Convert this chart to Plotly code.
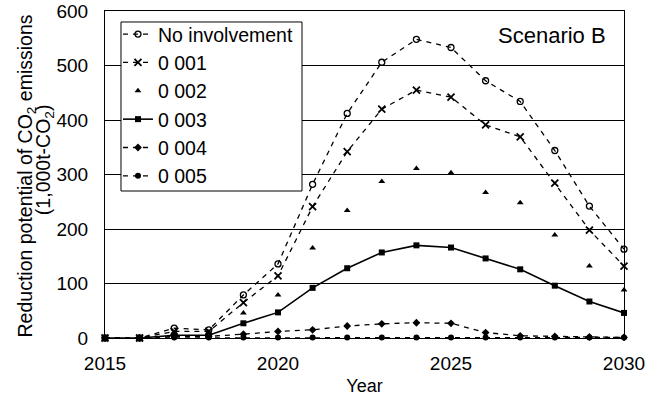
import plotly.graph_objects as go

years = list(range(2015, 2031))
no_involvement = [0, 0, 18, 15, 79, 136, 282, 412, 506, 548, 533, 472, 434, 344, 242, 163]
v0001 = [0, 0, 12, 12, 65, 114, 241, 342, 420, 455, 442, 391, 369, 284, 198, 132]
v0002 = [0, 0, 10, 10, 46, 79, 165, 234, 287, 311, 303, 267, 248, 189, 132, 88]
v0003 = [0, 0, 5, 5, 27, 47, 92, 128, 157, 170, 166, 146, 126, 96, 67, 46]
v0004 = [0, 0, 3, 3, 7, 12, 15, 22, 26, 28, 27, 10, 4, 3, 2, 1]
v0005 = [0, 0, 1, 1, 1, 1, 1, 1, 1, 1, 1, 1, 1, 1, 1, 1]

names = ["No involvement", "0 001", "0 002", "0 003", "0 004", "0 005"]
y_ticks = [0, 100, 200, 300, 400, 500, 600]
x_ticks = [2015, 2020, 2025, 2030]
y_title_1 = "Reduction potential of CO<sub>2</sub> emissions"
y_title_2 = "(1,000t-CO<sub>2</sub>)"

FONT = "Liberation Sans, Arial, sans-serif"
DASH = "5px,5px"

fig = go.Figure()
fig.add_trace(go.Scatter(x=years, y=no_involvement, name=names[0], mode="lines+markers",
                         line=dict(color="black", width=1.3, dash=DASH),
                         marker=dict(symbol="circle-open", size=6, color="black", line=dict(width=1.3)),
                         cliponaxis=False))
fig.add_trace(go.Scatter(x=years, y=v0001, name=names[1], mode="lines+markers",
                         line=dict(color="black", width=1.3, dash=DASH),
                         marker=dict(symbol="x-thin-open", size=7, color="black", line=dict(width=1.8)),
                         cliponaxis=False))
fig.add_trace(go.Scatter(x=years, y=v0002, name=names[2], mode="markers",
                         marker=dict(symbol="triangle-up", size=6, color="black"),
                         cliponaxis=False))
fig.add_trace(go.Scatter(x=years, y=v0003, name=names[3], mode="lines+markers",
                         line=dict(color="black", width=1.6),
                         marker=dict(symbol="square", size=6, color="black"),
                         cliponaxis=False))
fig.add_trace(go.Scatter(x=years, y=v0004, name=names[4], mode="lines+markers",
                         line=dict(color="black", width=1.3, dash=DASH),
                         marker=dict(symbol="diamond", size=6, color="black"),
                         cliponaxis=False))
fig.add_trace(go.Scatter(x=years, y=v0005, name=names[5], mode="lines+markers",
                         line=dict(color="black", width=1.3, dash=DASH),
                         marker=dict(symbol="circle", size=6, color="black"),
                         cliponaxis=False))

# legend frame (tighter than Plotly's own legend padding)
fig.add_shape(type="rect", xref="paper", yref="paper", x0=0.0308, x1=0.3796, y0=0.4495, y1=0.9664,
              line=dict(color="black", width=1), fillcolor="white", layer="above")

fig.add_annotation(text="Scenario B", xref="paper", yref="paper", x=0.97, y=0.97,
                   xanchor="right", yanchor="top", showarrow=False,
                   font=dict(family=FONT, size=22, color="black"))
fig.add_annotation(text=y_title_1, xref="paper", yref="paper", x=-0.1522, y=0.494,
                   xanchor="center", yanchor="middle", textangle=-90, showarrow=False,
                   font=dict(family=FONT, size=19.5, color="black"))
fig.add_annotation(text=y_title_2, xref="paper", yref="paper", x=-0.1175, y=0.544,
                   xanchor="center", yanchor="middle", textangle=-90, showarrow=False,
                   font=dict(family=FONT, size=19.5, color="black"))

fig.update_layout(
    width=661, height=396,
    margin=dict(l=105, r=37, t=11, b=58, autoexpand=False),
    paper_bgcolor="white", plot_bgcolor="white",
    font=dict(family=FONT, size=19, color="black"),
    showlegend=True,
    legend=dict(x=0.025, y=0.988, xanchor="left", yanchor="top",
                bgcolor="rgba(0,0,0,0)", borderwidth=0,
                font=dict(family=FONT, size=19.5, color="black"),
                itemwidth=30, tracegroupgap=0),
    xaxis=dict(range=[2015, 2030], tickvals=x_ticks, showgrid=False, zeroline=False,
               showline=True, linecolor="black", linewidth=1.2, mirror=True,
               ticks="", tickfont=dict(size=19), ticklabelstandoff=8, automargin=False,
               title=dict(text="Year", font=dict(size=18), standoff=7)),
    yaxis=dict(range=[0, 600], tickvals=y_ticks, showgrid=True, gridcolor="black", gridwidth=1,
               zeroline=False, showline=True, linecolor="black", linewidth=1.2, mirror=True,
               ticks="", tickfont=dict(size=19), ticklabelstandoff=12, automargin=False),
)

fig.write_html("out.html", post_script="document.body.style.margin='0';",
               config={"displayModeBar": False})
